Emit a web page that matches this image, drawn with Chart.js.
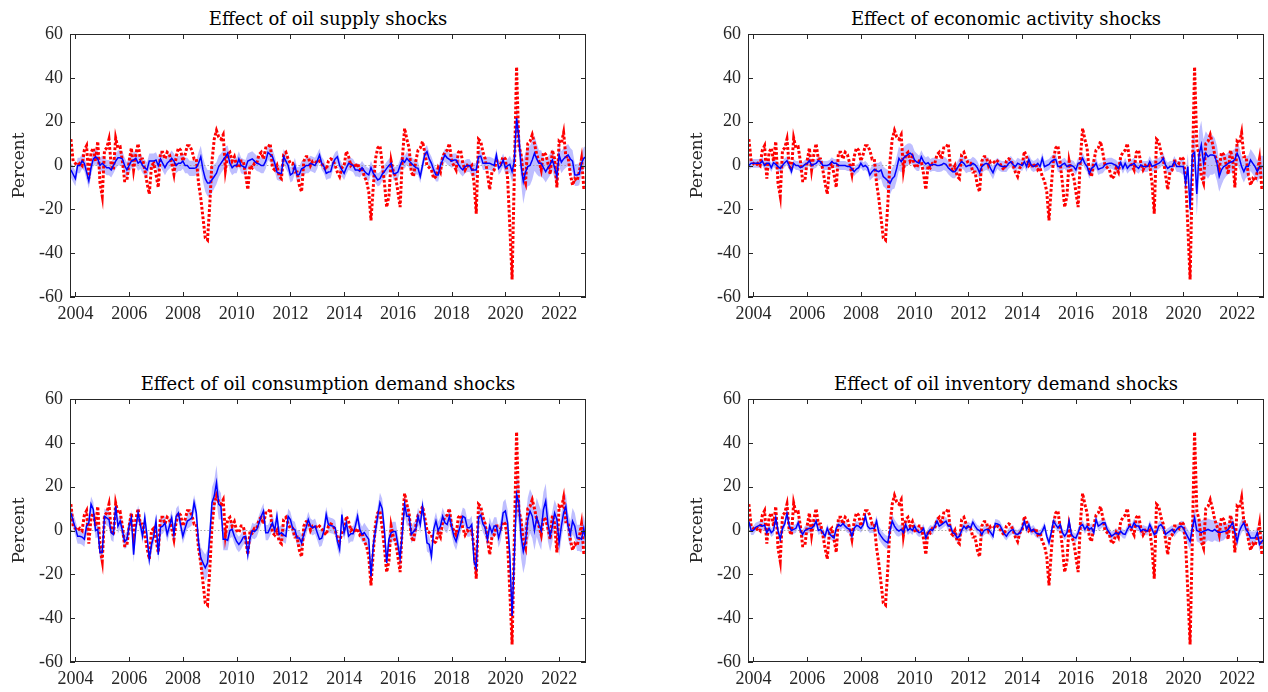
<!DOCTYPE html>
<html><head><meta charset="utf-8">
<script src="https://cdn.jsdelivr.net/npm/chart.js@4.4.0/dist/chart.umd.min.js"></script>
<style>
html,body{margin:0;padding:0;background:#fff;}
body{width:1268px;height:692px;overflow:hidden;position:relative;}
canvas{position:absolute;}
.ttl{position:absolute;font-family:"DejaVu Serif",serif;font-size:18px;line-height:18px;color:#000;white-space:nowrap;transform:translateX(-50%);}
</style></head><body>
<div class="ttl" id="t1" style="left:328px;top:10px"></div>
<div class="ttl" id="t2" style="left:1006px;top:10px"></div>
<div class="ttl" id="t3" style="left:328px;top:375px"></div>
<div class="ttl" id="t4" style="left:1006px;top:375px"></div>
<canvas id="c1" width="600" height="330" style="left:0;top:0"></canvas>
<canvas id="c2" width="587" height="330" style="left:678px;top:0"></canvas>
<canvas id="c3" width="600" height="330" style="left:0;top:365px"></canvas>
<canvas id="c4" width="587" height="330" style="left:678px;top:365px"></canvas>
<script>
// ---- data: monthly, first observation Nov 2003, last Jan 2023 ----
const startYear = 2003;
const startMonth = 11;
const titles = ["Effect of oil supply shocks", "Effect of economic activity shocks",
  "Effect of oil consumption demand shocks", "Effect of oil inventory demand shocks"];
const xTicks = [2004, 2006, 2008, 2010, 2012, 2014, 2016, 2018, 2020, 2022];
const yTicks = [-60, -40, -20, 0, 20, 40, 60];
const yLabel = "Percent";

// actual oil price growth (red dotted, same in all panels)
const oilPrice = [
12, 2, 1, 0, 1, 0, 7, 9, -6, 6,
8, 2, 11, -8, -14, 7, 8, 12, 0, -2,
12.5, 8, 8.5, 2, -7, -7, 2, 8, -2, 5,
10, 3, 3, -2, -8, -13, 0, 1, -4, -10,
6, 6, 3, 6, 5, 1, -4, 4, 8, 7,
2, 5, 9, 9, 7, 3, 3, -8, -15, -24,
-33, -34, -18, 2, 12, 16, 13, 12, 14, -2,
5, 6, 2, 4, 0, -1, 2, 2, -4, -11,
0, -1, 1, 1, 5, 6, 3, 8, 8, 10,
-1, -2, 0, -5, -6, 5, 6, 3, 1, 1,
-3, -3, -9, -12, 2, 4, 4, 0, 2, 2,
1, 2, 1, -1, -2, 2, 3, 2.5, 0, -3,
-5, -1, 0, 6.5, 4, 0, 1, -1, 1, -2,
-1, -5, -7, -12, -25, -10, 3, 8, 9, 1,
-8, -19, -14, 2, -3, -5, -12, -19, 3, 17,
12, 8, -3, -5, 2, 7, 8, 11, 6, 0,
-1, -2, -6, -5, -1, -3, 4, 6, 7, 10,
2, 0, -2, 6, 7, 1, -2, 0, -1, 0,
-8, -22, 12, 11, 6, 3, -4, -11, -3, -2,
2, 2, 1, 4, 3, -6, -28, -52, -4, 45,
9, 5, -5, -8, 10, 11, 14, 10, 5, 2,
-2, 6, 5, 1, -4, 7, 3, -10, 11, 10,
15, 4, 4, -4, -9, -6, -7, -3, 3, -10, -10];

// historical decomposition (blue), one array per shock
const supplyEffect = [
-2, -4, -6, 0, 0, 2, 1, -3, -7, -1,
3, 4, 3, 0, 1, 0, -1, -1, -2, 0,
2, 3.5, 3.5, 3, 0, -2, 0, 2, 2.5, 3.3,
1, 2, 0, -1, -2, 2, 2, 2, 2.5, 0,
3, 1, -1, 1, 2, 3.3, 2, 0, 1, 1,
2, 0, 0, -1.3, -1.3, -1.3, -1, 1, 4, -2,
-6, -8, -8, -6.5, -5, -3.5, -0.5, 1, 2.5, 4,
5.6, 1, -1, 0, 0, 3, 0, -0.5, -1, 2,
2.5, 3, 2, 1, 0.7, 0, 0, 2, 6, 5,
4, 1, -3, -3.5, -3.6, 4, 2, 0, -4.3, -3.6,
0, -4.3, -4, -1.5, -1, 0, 0, 1, 0.5, 0,
2, 4.8, 1, -0.5, -3.6, -3, -2.8, 1, 3, 4,
0, -2, -3.6, -1, 1, 0.5, 0, -2, -2, -2.5,
-1, -2.5, -3.6, -4.3, -1, -3.5, -5, -6.6, -6, -4,
-2.8, -1.3, 0, 1, -3.6, -3.6, -3, 0, 2.5, 1.5,
3.3, 2, 1, 0, -1, -1.3, -5, 0, 5, 6.3,
3, 1, -2, -4.3, -4.3, 0, 2.5, 4.8, 3.5, 2.8,
2, 2.5, 2.5, 0.5, -1, -2, -0.5, 0, 0, -2,
-2, -2, 4, 4.3, 1, 1, 1, 1, 0.5, 0,
4.8, -1.3, 0, 2.5, -1, 0, 0.5, -2.8, 2, 21.6,
13, 0, -7.4, -3, -0.5, 0, 2.5, 5.6, 3, 1,
1, -1, -2.8, -1, 0.5, 2.5, -1, -5, 4.8, 1.5,
3, 4, 4.8, 3, 2, -4.3, -4.3, -4, 1, 3.3, 4];

const activityEffect = [
0, 1, 1, 1, 1, 1, 2, 0, 1, 1,
-1, 1.3, 0.5, -0.5, -1.3, 0, 1.3, 2.2, 0, -2.8,
1, 0, 0, -1, -0.5, 0.5, 1, 2.2, 0, 0.5,
1, 2.2, 1.7, 0, 0, 0, 0.5, 1.8, 1, 1,
0, 0, 0, 0, -0.5, -0.5, -1.6, -2.8, -1.6, -1,
1, -0.5, 0, -1, -4.3, -2.8, -1.8, -2.4, -2.8, -2,
-5, -5.9, -7, -8.2, -6, -5, -1.3, 3.3, 1.8, 3.3,
4.3, 5, 5.6, 4.8, 2.5, 1.5, 1, 4, 1.8, 0.7,
1.3, 0, 0.5, 0.5, 0, 0, 0.3, 1, 0.5, -1,
-2, -2.8, -2.8, -1.3, 0.5, 1.8, 1, -0.5, 0, 0,
1, 0.3, -1, -3.3, -0.5, 0.5, 1, 0.5, -1.5, -3.3,
-0.5, 1, 0, -0.5, -0.5, -0.5, 1, 1.8, 0.3, -0.5,
1, 0.5, 0, 1.8, -0.5, 2.8, 0.3, -0.5, 0, 1,
-0.5, 3.3, -0.5, 0, 0.5, 1.8, 2.5, 2.8, -0.5, -0.5,
0.5, 1, -0.5, 0, 0, -0.5, -2, 1, 1.3, 3.3,
1, -0.5, -3.6, -1.3, -0.5, 1, -1.8, -1.3, -1, 0.3,
0.8, 1, 1, 0.5, 0, -1.3, 1.3, -1.3, 1, -1.3,
0, 0.3, 1, -0.5, -1.3, 0.3, -0.5, -0.5, -0.5, 1.8,
-0.5, 0, 0.5, 1, 1.8, 3.3, 0.3, -1.3, -0.5, -0.5,
1.8, -0.5, -0.5, -0.5, -0.5, -8, -0.5, -20, 5, 6,
-13, 5, 9.4, 1, 5.6, 4, 4.8, 4.8, 4.5, 1,
-5, -2, -0.5, 0, 1, 1.5, 1.8, 2.8, 5.6, 3.3,
-0.5, -2.8, -0.5, -0.5, 2.5, 1, -0.5, -2.8, -0.5, -0.5, -0.5];

const consumptionEffect = [
8, 4.3, 1.2, -2.6, -2.6, -3, -4, 2, 3.5, 12,
9.6, 0, 0.5, -10, -10, 6.5, 5.8, 5, -1, -1.8,
11, 2, 4.3, 0, -5, -4, 2, 5.8, -11, 1,
8, 2.7, -2.6, 5.8, -2.6, -13.3, -6.4, -2.6, 4.3, -11,
1.5, 2, 3.5, -1.8, 2, 5.8, -1.8, 6.5, 8, 2.5,
-2.6, 1, 4.3, 5, 5.8, 12.7, 8, -5.6, -12.5, -14.8,
-17, -14.8, -2.6, 12.7, 15.7, 21.8, 12, 11, -4, -4,
-4.5, 0, 0.5, -2.6, -5, -6.4, -5, -3, -2.6, -11,
-3.4, 0, -0.5, 0.5, 3.5, 6.5, 8.9, -1, -1, 1.2,
3.5, 0, 6.5, -1.8, -1, -2, -2.6, 6.5, 5, 1,
0.5, -3.4, -3.4, -5.6, -1.8, 1.2, 5, 2, 1.2, 2,
-1, -4, -3.5, 0, 7.3, 2.7, 2.3, 2, 1.2, -5,
-8.7, 7.3, -1, 3.5, -2.6, -1.5, -1.5, 2, 6.5, 0.5,
-1.8, -1, -2.6, -4, -21, -7, 0, 6.5, 12.7, 10,
0, -14.8, -4, -1, -0.5, -0.5, -6.4, -12.5, -1, 12,
6.5, 6.5, -1.8, -0.5, 0.5, 6.5, 2.7, 11, 3.5, -5.6,
-6.4, -11.7, 0.5, 4.3, 0, 2, 6.5, 3.5, 2.7, 6.5,
2, -2.6, -5, -1, 2.7, 6.5, 5.8, 1.2, 1.2, 2.7,
-14, -17, 6, 7, 3, 1.2, -4, 2, -1, 2,
2, -3.4, 0.5, 8, 8.9, 3.5, -11.7, -39, -12, 16.5,
12.7, -2.6, -9.5, -5, 5, 8.9, 6.5, 0, 6, 2.7,
0, 9.6, 13.4, 3, -2.6, 2, 8, 5, -5.6, 2,
8, 11, 2, -1.8, 4.3, 2, -3.4, -3.4, -4, 1, -5.6];

const inventoryEffect = [
4, 0, 0, 1.5, 2, 2.5, 2, 2.5, -1, 1,
-1, 0, 5.8, 0, -4, 1, 3, 7.8, 2, 0,
0.5, 1, 3.5, 0, -1.8, 0, 0.5, 1, 1, 2,
4.3, 0, 0.5, -1, -2.6, 1, -1.5, -2.6, -3.4, 1,
2.7, 2, 3.2, 2, 1, 0.5, -2.6, 1, 2.3, 2,
1, 2.5, 6.5, 2, 0.8, 1, 1, 4.3, -1, -2.6,
-4, -5, -5.6, 0, 4.3, 2, 0.5, -0.3, 0.5, -1,
2.7, 0, 1, 0, 2, 0, -1, -0.5, 1, -3.4,
-1, 0.5, 0, 2, 4.3, 2, 2.7, 3.5, 4.3, 2,
2, -1, -1.5, -3.4, -2.6, 0, 2, 0.8, 2, 1.2,
3.8, 2, 0.5, 0, -1.8, 0, 0.5, 0.5, -1, -2.6,
3.2, 3, 2.5, 0.5, -1.5, -2.6, -1, 0, 0.5, -1.5,
-1.8, -1, 1.2, 4.3, 0.5, 2.7, -0.3, 0.5, -1, -1.5,
-1.8, -0.3, 2, -2.6, -5.6, -1, 4.3, 2.7, 1.2, 2.7,
-1, -2.6, -1, 4.3, -1.8, -3, -3.4, -1, 2, 2.7,
0.5, 2, 0.5, 1.2, -1, 5, 2, 2.7, 3.5, 3.5,
0.5, -1, -2.6, -1.8, -1, -1.8, -0.3, -1.5, -1.8, 0.5,
2, 1.2, 3.5, 2, 2, -0.3, 0.5, 0, -0.3, 2.7,
0.5, -1.8, -1, 2, 2.7, 1.2, -1.8, -1, -0.3, 0.5,
-1, 0.5, 1.5, 2, 1.2, -1, -3, -5, 1.2, 5.8,
0, -0.5, -1, -0.3, 0, 0.5, 0, -0.3, 0.5, -0.5,
-0.8, -0.8, -0.5, -0.3, 0.5, 2, 3.5, -0.8, -5, -0.3,
2, 3.5, 0.5, -1, -3.4, -3.4, -3.4, -1, -6.4, -5, -4];

// half-width of the shaded credible band, read per month
const supplyBand = [
3.5,3.5,3.5,3.5,3.5,3.5,3.5,3.5,3.5,3.5, 3.5,3.5,3.5,3.5,3.5,3.5,3.5,3.5,3.5,3.5,
3.5,3.5,3.5,3.5,3.5,3.5,3.5,3.5,3.5,3.5, 3.5,3.5,3.5,3.5,3.5,3.5,3.5,3.5,3.5,3.5,
3.5,3.5,3.5,3.5,3.5,3.5,3.5,3.5,3.5,3.5, 3.5,3.5,3.5,3.5,3.5,3.5,3.5,
5,5,5.5,6,6,6, 6,5.5,5,5,4.5,4.5,4.5,
3.5,3.5,3.5,3.5,3.5,3.5,3.5,3.5,3.5,3.5, 3.5,3.5,3.5,3.5,3.5,3.5,3.5,3.5,3.5,3.5,
3.5,3.5,3.5,3.5,3.5,3.5,3.5,3.5,3.5,3.5, 3.5,3.5,3.5,3.5,3.5,3.5,3.5,3.5,3.5,3.5, 3.5,
3,3,3,3,3,3,3,3,3,3, 3,3,3,3,3,3,3,3,3,3, 3,3,3,3,3,3,3,3,3,3, 3,3,3,3,3,3,3,3,3,3,
3,3,3,3,3,3,3,3,3,3, 3,3,3,3,3,3,3,3,3,3, 3,3,3,3,3,3,3,3,3,3, 3,3,3,3,3,3,3,3,3,3, 3,3,3,3,3,
4,5,5,6,7,8, 10,9,9,9,9,8,7,6,6,
5,5,5,5,5,5,5,5,5,5, 5,5,5,5,5,5,5,5,5,5];

const activityBand = [
2,2,2,2,2,2,2,2,2,2, 2,2,2,2,2,2,2,2,2,2, 2,2,2,2,2,2,2,2,2,2, 2,2,2,2,2,2,2,2,2,2,
2,2,2,2,2,2,2,2,2,2, 2,2,2,2,
2.5,3,3,3.5,4,4,4.5,4.5,5,
5,5,5.5,5.5,5.5,5,5,5,5,4.5,4.5,4,4,3.5,
3,3,3,3,3,3,3,3,3,3, 3,3,3,3,3,3,3,3,3,3, 3,3,3,3,3,3,3,3,3,3, 3,3,3,3,
2.5,2.5,2.5,2.5,2.5,2.5,2.5,2.5,2.5,2.5, 2.5,2.5,2.5,2.5,2.5,2.5,2.5,2.5,2.5,2.5,
2.5,2.5,2.5,2.5,2.5,2.5,2.5,2.5,2.5,2.5, 2.5,2.5,2.5,2.5,2.5,2.5,2.5,2.5,2.5,2.5,
2.5,2.5,2.5,2.5,2.5,2.5,2.5,2.5,2.5,2.5, 2.5,2.5,2.5,2.5,2.5,2.5,2.5,2.5,2.5,2.5,
2.5,2.5,2.5,2.5,2.5,2.5,2.5,2.5,2.5,2.5, 2.5,2.5,2.5,2.5,2.5,2.5,2.5,2.5,2.5,2.5, 2.5,2.5,
3,4,5,6,7,8,9,
10,11,11,11,10,10,9,9,8,8,7,7,6,
5,5,5,5,5,5,5,5,5,5, 5,5,5,5,5,5,5,5];

const consumptionBand = [
3.5,3.5,3.5,3.5,3.5,3.5,3.5,3.5,3.5,3.5, 3.5,3.5,3.5,3.5,3.5,3.5,3.5,3.5,3.5,3.5,
3.5,3.5,3.5,3.5,3.5,3.5,3.5,3.5,3.5,3.5, 3.5,3.5,3.5,3.5,3.5,3.5,3.5,3.5,3.5,3.5,
3.5,3.5,3.5,3.5,3.5,3.5,3.5,3.5,3.5,3.5, 3.5,3.5,3.5,3.5,3.5,3.5,
4,4.5,5,5.5,6,6,6,7,7,8,7,6,5,5,4.5,
3.5,3.5,3.5,3.5,3.5,3.5,3.5,3.5,3.5,3.5, 3.5,3.5,3.5,3.5,3.5,3.5,3.5,3.5,3.5,3.5,
3.5,3.5,3.5,3.5,3.5,3.5,3.5,3.5,3.5,3.5, 3.5,3.5,3.5,3.5,3.5,3.5,3.5,3.5,3.5,3.5,
3.5,3.5,3.5,3.5,3.5,3.5,3.5,3.5,3.5,3.5, 3.5,3.5,3.5,3.5,3.5,3.5,3.5,3.5,3.5,3.5,
4.5,4.5,4.5,4.5,4.5,4.5,4.5,4.5,4.5,4.5, 4.5,4.5,4.5,4.5,4.5,4.5,4.5,4.5,4.5,4.5,
4,4,4,4,4,4,4,4,4,4, 4,4,4,4,4,4,4,4,4,4, 4,4,4,4,4,4,4,4,4,4, 4,4,4,4,4,4,4,4,4,4,
4.5,5,5,5.5,6,6,
7,8,9,10,10,10,10,10,10,10,9,9,9,9,8,8,8,7,7,
6,6,6,6,6,6,6,6,6,6, 6,6,6,6,6];

const inventoryBand = [
2,2,2,2,2,2,2,2,2,2, 2,2,2,2,2,2,2,2,2,2, 2,2,2,2,2,2,2,2,2,2, 2,2,2,2,2,2,2,2,2,2,
2,2,2,2,2,2,2,2,2,2, 2,2,2,2,2,2,
2.5,2.5,3,3,3,3,3,3,3,3,3,2.5,2.5,2.5,2.5,
2,2,2,2,2,2,2,2,2,2, 2,2,2,2,2,2,2,2,2,2, 2,2,2,2,2,2,2,2,2,2, 2,2,2,2,2,2,2,2,2,2,
2,2,2,2,2,2,2,2,2,2, 2,2,2,2,2,2,2,2,2,2, 2,2,2,2,2,2,2,2,2,2, 2,2,2,2,2,2,2,2,2,2,
2,2,2,2,2,2,2,2,2,2, 2,2,2,2,2,2,2,2,2,2, 2,2,2,2,2,2,2,2,2,2, 2,2,2,2,2,2,2,2,2,2, 2,2,
2.5,3,3,3.5,4,4,4.5,
5,5,5.5,5.5,5.5,5,5,5,5,4.5,4.5,4,4,
3,3,3,3,3,3,3,3,3,3, 3,3,3,3,3,3,3,3];

// ---- drawing ----
const TICKFONT = '"Liberation Serif", "DejaVu Serif", serif';
const LABELFONT = '"DejaVu Serif", serif';
const INK = '#262626';
const xOf = i => startYear + (startMonth - 1) / 12 + i / 12;
const pts = arr => arr.map((v, i) => ({x: xOf(i), y: v}));

const boxPlugin = {
  id: 'boxTicks',
  afterDraw(chart) {
    const {ctx, chartArea: a, scales: {x, y}} = chart;
    ctx.save();
    ctx.strokeStyle = INK; ctx.lineWidth = 1;
    ctx.strokeRect(Math.round(a.left) + 0.5, Math.round(a.top) + 0.5,
      Math.round(a.right - a.left) - 1, Math.round(a.bottom - a.top) - 1);
    const L = 5;
    ctx.beginPath();
    xTicks.forEach(v => {
      const px = Math.round(x.getPixelForValue(v)) + 0.5;
      ctx.moveTo(px, a.bottom); ctx.lineTo(px, a.bottom - L);
      ctx.moveTo(px, a.top); ctx.lineTo(px, a.top + L);
    });
    yTicks.forEach(v => {
      const py = Math.round(y.getPixelForValue(v)) + 0.5;
      ctx.moveTo(a.left, py); ctx.lineTo(a.left + L, py);
      ctx.moveTo(a.right, py); ctx.lineTo(a.right - L, py);
    });
    ctx.stroke();
    ctx.restore();
  }
};

function makePanel(id, title, titleId, effect, band, padRight) {
  document.getElementById(titleId).textContent = title;
  const first = xOf(0), last = xOf(oilPrice.length - 1);
  const lower = effect.map((v, i) => v - band[i]);
  const upper = effect.map((v, i) => v + band[i]);
  new Chart(document.getElementById(id), {
    type: 'line',
    data: {
      datasets: [
        {data: pts(effect), borderColor: '#0000ff', borderWidth: 1.5, pointRadius: 0, fill: false, order: 0},
        {data: pts(oilPrice), borderColor: '#ff0000', borderWidth: 3, borderDash: [2.8, 2], borderCapStyle: 'butt',
          pointRadius: 0, fill: false, order: 1},
        {data: [{x: first, y: 0}, {x: last, y: 0}], borderColor: '#a6a6a6', borderWidth: 1, borderDash: [1.5, 2],
          pointRadius: 0, fill: false, order: 2},
        {data: pts(lower), borderWidth: 0, borderColor: 'rgba(0,0,0,0)', pointRadius: 0, fill: false, order: 3},
        {data: pts(upper), borderWidth: 0, borderColor: 'rgba(0,0,0,0)', pointRadius: 0, fill: 3,
          backgroundColor: 'rgba(70,70,255,0.35)', order: 4}
      ]
    },
    options: {
      responsive: false, animation: false, devicePixelRatio: 1,
      layout: {padding: {top: 34, right: padRight, left: 0, bottom: 0}},
      plugins: {legend: {display: false}, tooltip: {enabled: false}, title: {display: false}},
      elements: {line: {tension: 0}},
      scales: {
        x: {
          type: 'linear', min: 2003.8, max: 2023.0,
          border: {display: false}, grid: {display: false, drawTicks: false},
          afterBuildTicks: s => { s.ticks = xTicks.map(v => ({value: v})); },
          afterFit: s => { s.height = 33; },
          ticks: {callback: v => String(v), color: INK, font: {family: TICKFONT, size: 18}, padding: 6,
            maxRotation: 0, autoSkip: false}
        },
        y: {
          type: 'linear', min: -60, max: 60,
          border: {display: false}, grid: {display: false, drawTicks: false},
          afterBuildTicks: s => { s.ticks = yTicks.map(v => ({value: v})); },
          afterFit: s => { s.width = 70; },
          ticks: {callback: v => String(v), color: INK, font: {family: TICKFONT, size: 18}, padding: 7},
          title: {display: true, text: yLabel, color: INK, font: {family: LABELFONT, size: 17}, padding: {top: 9, bottom: 0}}
        }
      }
    },
    plugins: [boxPlugin]
  });
}

makePanel('c1', titles[0], 't1', supplyEffect, supplyBand, 14);
makePanel('c2', titles[1], 't2', activityEffect, activityBand, 1);
makePanel('c3', titles[2], 't3', consumptionEffect, consumptionBand, 14);
makePanel('c4', titles[3], 't4', inventoryEffect, inventoryBand, 1);
</script>
</body></html>
